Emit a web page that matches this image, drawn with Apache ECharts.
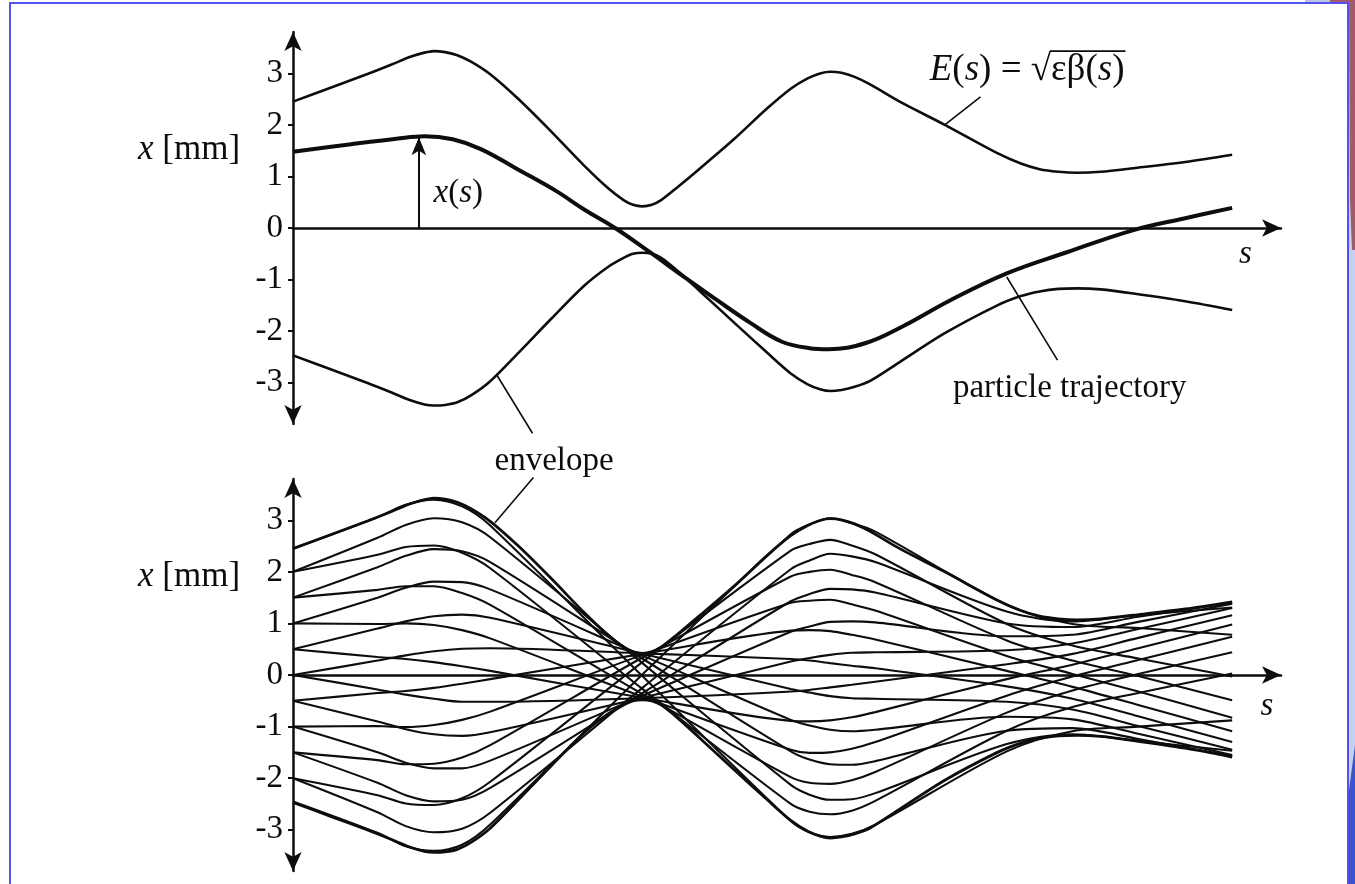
<!DOCTYPE html>
<html>
<head>
<meta charset="utf-8">
<script src="https://cdn.jsdelivr.net/npm/echarts@6/dist/echarts.min.js"></script>
<style>
  html, body { margin: 0; padding: 0; background: #fff; }
  #chart { width: 1355px; height: 884px; }
</style>
</head>
<body>
<div id="chart"></div>
<script>
// ---- data (s in arbitrary units, x in mm) ----

// beam envelope E(s) = sqrt(eps*beta(s)), upper and lower branch
const envS     = [0, 0.4, 0.8, 1.05, 1.25, 1.4, 1.5, 1.62, 1.75, 1.9, 2.1, 2.4, 2.75, 3.1, 3.35, 3.52, 3.62, 3.72, 3.82, 3.92, 4.1, 4.33, 4.7, 5.05, 5.3, 5.48, 5.62, 5.72, 5.84, 5.98, 6.15, 6.46, 6.94, 7.5, 7.75, 7.95, 8.15, 8.35, 8.6, 8.95, 9.5, 10]
const envUpper = [2.45, 2.72, 2.99, 3.17, 3.32, 3.40, 3.43, 3.41, 3.35, 3.22, 2.98, 2.50, 1.87, 1.21, 0.78, 0.54, 0.45, 0.42, 0.45, 0.54, 0.80, 1.15, 1.73, 2.32, 2.70, 2.90, 3.00, 3.03, 3.01, 2.93, 2.78, 2.45, 2.00, 1.45, 1.25, 1.14, 1.09, 1.07, 1.09, 1.16, 1.28, 1.42]
const envLower = [-2.47, -2.74, -3.01, -3.19, -3.34, -3.42, -3.44, -3.43, -3.38, -3.24, -2.97, -2.42, -1.76, -1.12, -0.76, -0.58, -0.50, -0.48, -0.50, -0.58, -0.84, -1.22, -1.84, -2.42, -2.82, -3.03, -3.13, -3.16, -3.14, -3.08, -2.96, -2.60, -2.04, -1.50, -1.32, -1.23, -1.18, -1.17, -1.19, -1.27, -1.42, -1.59]

// single particle trajectory (top panel)
const trajS = [0, 0.6, 1.1, 1.4, 1.7, 2.0, 2.4, 2.8, 3.1, 3.43, 3.8, 4.15, 4.5, 4.87, 5.2, 5.5, 5.7, 6.1, 6.5, 7.0, 7.6, 8.24, 8.95, 9.5, 10]
const trajX = [1.48, 1.62, 1.73, 1.78, 1.72, 1.53, 1.13, 0.72, 0.36, 0, -0.47, -0.93, -1.38, -1.84, -2.2, -2.33, -2.35, -2.23, -1.90, -1.40, -0.88, -0.47, -0.04, 0.19, 0.39]

// bundle of trajectories (bottom panel), sampled at bundleS
const bundleS = [0, 0.9, 1.2, 1.5, 1.8, 2.1, 3.72, 5.3, 5.5, 5.72, 5.95, 6.2, 7.6, 8.3, 9.0, 10]
const bundleRays = [
  [2.45, 3.06, 3.30, 3.40, 3.27, 2.90, -0.02, -2.83, -3.05, -3.14, -3.08, -2.90, -1.48, -1.09, -1.00, -0.88],
  [-2.45, -3.06, -3.32, -3.41, -3.29, -2.90, 0.01, 2.73, 2.92, 3.04, 2.94, 2.78, 1.36, 0.99, 0.91, 0.78],
  [2.0, 2.33, 2.48, 2.51, 2.37, 2.07, -0.27, -2.50, -2.65, -2.70, -2.63, -2.44, -1.08, -0.62, -0.35, 0.03],
  [-2.0, -2.33, -2.49, -2.52, -2.39, -2.07, 0.25, 2.41, 2.54, 2.62, 2.51, 2.34, 0.99, 0.57, 0.32, -0.03],
  [2.0, 2.66, 2.91, 3.04, 2.96, 2.67, 0.23, -2.13, -2.32, -2.42, -2.41, -2.29, -1.34, -1.15, -1.28, -1.47],
  [-2.0, -2.66, -2.93, -3.05, -2.98, -2.67, -0.25, 2.05, 2.22, 2.35, 2.30, 2.19, 1.23, 1.04, 1.16, 1.31],
  [1.5, 1.65, 1.72, 1.72, 1.59, 1.36, -0.37, -1.98, -2.09, -2.11, -2.04, -1.88, -0.73, -0.30, 0.02, 0.44],
  [-1.5, -1.65, -1.73, -1.72, -1.60, -1.36, 0.34, 1.91, 2.00, 2.04, 1.94, 1.80, 0.67, 0.28, -0.02, -0.49],
  [1.5, 2.09, 2.31, 2.44, 2.40, 2.19, 0.32, -1.48, -1.64, -1.73, -1.74, -1.67, -1.08, -1.03, -1.24, -1.57],
  [-1.5, -2.09, -2.33, -2.45, -2.42, -2.19, -0.35, 1.43, 1.57, 1.67, 1.66, 1.60, 1.00, 0.93, 1.13, 1.40],
  [1.0, 0.99, 1.00, 0.97, 0.87, 0.71, -0.42, -1.45, -1.51, -1.50, -1.43, -1.30, -0.40, -0.03, 0.29, 0.74],
  [-1.0, -0.99, -1.01, -0.97, -0.87, -0.71, 0.39, 1.40, 1.44, 1.46, 1.37, 1.25, 0.37, 0.02, -0.32, -0.83],
  [1.0, 1.50, 1.69, 1.81, 1.80, 1.66, 0.38, -0.87, -0.98, -1.06, -1.09, -1.06, -0.81, -0.86, -1.14, -1.55],
  [-1.0, -1.50, -1.70, -1.81, -1.81, -1.66, -0.40, 0.84, 0.94, 1.03, 1.04, 1.02, 0.75, 0.78, 1.03, 1.38],
  [0.5, 0.35, 0.31, 0.25, 0.17, 0.08, -0.44, -0.89, -0.90, -0.88, -0.82, -0.72, -0.08, 0.20, 0.52, 0.98],
  [-0.5, -0.35, -0.31, -0.25, -0.17, -0.08, 0.41, 0.86, 0.87, 0.85, 0.78, 0.69, 0.08, -0.23, -0.58, -1.09],
  [0.5, 0.90, 1.04, 1.14, 1.17, 1.11, 0.41, -0.27, -0.34, -0.41, -0.45, -0.46, -0.52, -0.67, -0.99, -1.45],
  [-0.5, -0.90, -1.05, -1.15, -1.18, -1.11, -0.44, 0.26, 0.33, 0.39, 0.43, 0.44, 0.48, 0.61, 0.89, 1.30],
  [0, -0.28, -0.38, -0.46, -0.52, -0.52, -0.45, -0.32, -0.29, -0.24, -0.19, -0.13, 0.21, 0.41, 0.72, 1.16],
  [0, 0.28, 0.38, 0.46, 0.51, 0.52, 0.42, 0.31, 0.28, 0.23, 0.18, 0.13, -0.22, -0.46, -0.80, -1.30]
]

// leader lines for the annotations
const eLeaderS = [6.94, 7.32]
const eLeaderX = [2.0, 2.54]
const trajLeaderS = [7.6, 8.14]
const trajLeaderX = [-0.95, -2.56]
const envLeaderTopS = [2.17, 2.55]
const envLeaderTopX = [-2.85, -3.98]
const envLeaderBotS = [2.15, 2.56]
const envLeaderBotX = [2.95, 3.83]

// the x(s) arrow
const xsArrowS = [1.34, 1.34]
const xsArrowX = [0, 1.76]

const yTicks = [-3, -2, -1, 0, 1, 2, 3]

// ---- styling ----
const ink = '#0d0d0d'
const fontFamily = '"Liberation Serif", "DejaVu Serif", serif'
const FS = 33

const pts = (sArr, xArr) => sArr.map((s, i) => [s, xArr[i]])

function curve(grid, data, width, extra) {
  return Object.assign({
    type: 'line',
    xAxisIndex: grid,
    yAxisIndex: grid,
    data: data,
    symbol: 'none',
    showSymbol: false,
    silent: true,
    smooth: 0.3,
    lineStyle: { color: ink, width: width },
    z: 3
  }, extra || {})
}

function makeXAxis(grid) {
  return {
    type: 'value',
    gridIndex: grid,
    min: 0,
    max: 10.52,
    axisLine: {
      onZero: true,
      symbol: ['none', 'arrow'],
      symbolSize: [13, 19],
      lineStyle: { color: ink, width: 2.5 }
    },
    axisTick: { show: false },
    axisLabel: { show: false },
    splitLine: { show: false }
  }
}

function makeYAxis(grid) {
  return {
    type: 'value',
    gridIndex: grid,
    min: -3.8,
    max: 3.8,
    axisLine: {
      symbol: ['arrow', 'arrow'],
      symbolSize: [13, 19],
      lineStyle: { color: ink, width: 2.5 }
    },
    axisTick: {
      show: true,
      customValues: yTicks,
      length: 5,
      lineStyle: { color: ink, width: 2 }
    },
    axisLabel: {
      customValues: yTicks,
      margin: 10,
      fontSize: FS,
      fontFamily: fontFamily,
      color: ink,
      formatter: v => (v < 0 ? '-' + Math.abs(v) : String(v))
    },
    splitLine: { show: false }
  }
}

const series = [
  // top panel
  curve(0, pts(envS, envUpper), 2.6),
  curve(0, pts(envS, envLower), 2.6),
  curve(0, pts(trajS, trajX), 4, {
    smooth: 0.4,
    markLine: {
      silent: true,
      symbol: ['none', 'arrow'],
      symbolSize: [11, 18],
      label: { show: false },
      lineStyle: { color: ink, width: 2, type: 'solid' },
      data: [[{ coord: [xsArrowS[0], xsArrowX[0]] }, { coord: [xsArrowS[1], xsArrowX[1]] }]]
    }
  }),
  curve(0, pts(eLeaderS, eLeaderX), 1.6, { smooth: false }),
  curve(0, pts(trajLeaderS, trajLeaderX), 1.6, { smooth: false }),
  curve(0, pts(envLeaderTopS, envLeaderTopX), 1.6, { smooth: false, clip: false }),
  // bottom panel
  curve(1, pts(envS, envUpper), 2.8),
  curve(1, pts(envS, envLower), 2.8),
  curve(1, pts(envLeaderBotS, envLeaderBotX), 1.6, { smooth: false, clip: false })
]
bundleRays.forEach(ray => {
  series.push(curve(1, pts(bundleS, ray), 2.1))
})

const chart = echarts.init(document.getElementById('chart'))

chart.setOption({
  animation: false,
  backgroundColor: '#ffffff',
  grid: [
    { left: 293, top: 32, width: 988, height: 392 },
    { left: 293, top: 479, width: 988, height: 392 }
  ],
  xAxis: [makeXAxis(0), makeXAxis(1)],
  yAxis: [makeYAxis(0), makeYAxis(1)],
  series: series
})

// ---- annotations placed at data coordinates ----
const ctx = document.createElement('canvas').getContext('2d')
function tw(str, italic, size) {
  ctx.font = (italic ? 'italic ' : '') + size + 'px ' + fontFamily
  return ctx.measureText(str).width
}
const toPx = (grid, s, x) => chart.convertToPixel({ gridIndex: grid }, [s, x])
const richFor = size => ({ i: { fontStyle: 'italic', fontSize: size, fontFamily: fontFamily, fill: ink } })

function label(grid, s, x, text, align, size) {
  const p = toPx(grid, s, x)
  const fs = size || FS
  return {
    type: 'text',
    silent: true,
    z: 10,
    style: {
      text: text,
      x: p[0],
      y: p[1],
      align: align || 'center',
      verticalAlign: 'middle',
      fontSize: fs,
      fontFamily: fontFamily,
      fill: ink,
      rich: richFor(fs)
    }
  }
}

const graphics = [
  label(0, -1.107, 1.51, '{i|x} [mm]', 'center', 35),
  label(1, -1.107, 1.9, '{i|x} [mm]', 'center', 35),
  label(0, 1.76, 0.68, '{i|x}({i|s})'),
  label(0, 8.27, -3.11, 'particle trajectory'),
  label(1, 2.78, 4.14, 'envelope'),
  label(0, 10.14, -0.52, '{i|s}'),
  label(1, 10.37, -0.6, '{i|s}')
]

// E(s) = sqrt(eps beta(s)) with a drawn vinculum
const EFS = 37
const eAnchor = toPx(0, 6.78, 3.06)
const w1 = tw('E', true, EFS) + tw('(', false, EFS) + tw('s', true, EFS) + tw(') = √', false, EFS)
const w2 = tw('εβ(', false, EFS) + tw('s', true, EFS) + tw(')', false, EFS)
graphics.push(label(0, 6.78, 3.06, '{i|E}({i|s}) = √', 'left', EFS))
graphics.push(label(0, 6.78, 3.06, 'εβ({i|s})', 'left', EFS))
graphics[graphics.length - 1].style.x = eAnchor[0] + w1
graphics.push({
  type: 'line', silent: true, z: 10,
  shape: { x1: eAnchor[0] + w1 - 1, y1: eAnchor[1] - 19, x2: eAnchor[0] + w1 + w2 + 1, y2: eAnchor[1] - 19 },
  style: { stroke: ink, lineWidth: 1.7 }
})

// slide frame and the decoration on the right edge
graphics.push(
  { type: 'rect', silent: true, z: 1, shape: { x: 1349, y: 0, width: 6, height: 884 }, style: { fill: '#c8d0f0' } },
  { type: 'rect', silent: true, z: 1, shape: { x: 1305, y: 0, width: 25, height: 4 }, style: { fill: '#b9c3e3' } },
  { type: 'polygon', silent: true, z: 1, shape: { points: [[1330, 0], [1355, 0], [1355, 250], [1352, 250], [1350, 200], [1349, 4], [1330, 4]] }, style: { fill: '#a55a6a' } },
  { type: 'polygon', silent: true, z: 1, shape: { points: [[1349, 884], [1349, 790], [1355, 745], [1355, 884]] }, style: { fill: '#3a55c8' } },
  { type: 'polyline', silent: true, z: 2, shape: { points: [[10, 884], [10, 3], [1348, 3], [1348, 884]] }, style: { stroke: '#5252f2', lineWidth: 2, fill: null } }
)

chart.setOption({ graphic: graphics })
</script>
</body>
</html>
